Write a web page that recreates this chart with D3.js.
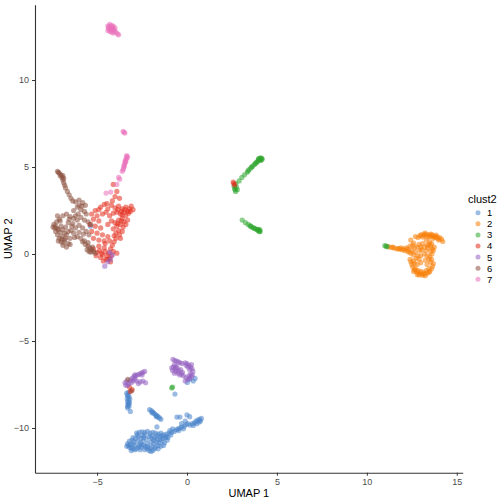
<!DOCTYPE html>
<html lang="en">
<head>
    <meta charset="UTF-8">
    <title>UMAP clust2</title>
    <script src="https://d3js.org/d3.v7.min.js"></script>
    <style>
        body { margin: 0; background: #fff; font-family: "Liberation Sans", Arial, sans-serif; }
        .tick text { fill: #4d4d4d; font-size: 9px; }
        .axis path, .axis line { stroke: #333; }
        .axis-title { font-size: 11px; fill: #000; }
        .legend-title { font-size: 11px; fill: #000; }
        .legend-label { font-size: 9.5px; fill: #000; }
    </style>
</head>
<body>
<svg id="chart" width="504" height="504"></svg>
<script>
// cluster labels and colours
const categories = ["1", "2", "3", "4", "5", "6", "7"];
const colors = ["#4883ca", "#f77d05", "#2da52d", "#e42c1c", "#945fc0", "#8b513e", "#ea6fba"];
const xTicks = [-5, 0, 5, 10, 15];
const yTicks = [-10, -5, 0, 5, 10];

// [UMAP 1, UMAP 2] per cell
const clust1 = [
    [-3.25,-7.95],[-3.3,-8.1],[-3.22,-8.2],[-3.32,-8.3],[-3.25,-8.4],[-3.3,-8.5],[-3.2,-8.55],[-3.28,-8.65],
    [-3.22,-8.75],[-3.3,-8.85],[-3.15,-9.05],[-3.35,-8.0],[-3.18,-8.35],[-3.28,-8.15],[-3.24,-8.6],[-3.3,-8.75],
    [0.15,-7.2],[0.35,-7.3],[0.02,-7.38],[0.45,-7.15],[-0.67,-8.05],[-5.37,1.6],
    [-2.08,-8.95],[-1.98,-9.0],[-1.9,-9.08],[-1.85,-9.15],[-1.78,-9.2],[-1.72,-9.28],[-1.65,-9.3],[-1.6,-9.38],
    [-1.52,-9.42],[-1.45,-9.5],[-1.95,-9.12],[-1.7,-9.35],
    [-1.67,-9.94],[-0.56,-9.37],[-0.39,-9.37],[0.0,-9.25],[0.15,-9.35],[0.17,-9.83],
    [0.3,-9.75],[0.42,-9.7],[0.5,-9.6],[0.6,-9.55],[0.7,-9.5],[0.8,-9.45],[0.55,-9.75],[0.68,-9.65],[0.35,-9.85],[0.75,-9.6],
    [-1.0,-10.3],[-0.85,-10.25],[-0.7,-10.2],[-0.6,-10.1],[-0.5,-10.05],[-0.4,-10.0],[-0.3,-9.95],[-0.15,-9.9],
    [-0.05,-9.8],[0.05,-9.75],[-0.45,-10.15],[-0.2,-10.05],[-0.9,-10.4],[-0.3,-9.75],[-0.1,-9.6],
    [-2.8,-10.3],[-2.65,-10.25],[-2.5,-10.22],[-2.35,-10.25],[-2.2,-10.2],[-2.05,-10.3],[-1.9,-10.25],[-1.75,-10.3],
    [-1.6,-10.35],[-1.45,-10.3],[-1.3,-10.4],[-1.15,-10.35],
    [-3.0,-10.55],[-2.85,-10.6],[-2.7,-10.5],[-2.55,-10.6],[-2.4,-10.55],[-2.25,-10.65],[-2.1,-10.5],[-1.95,-10.6],
    [-1.8,-10.55],[-1.65,-10.65],[-1.5,-10.5],[-1.35,-10.6],[-1.2,-10.55],[-1.1,-10.7],
    [-2.95,-10.8],[-2.6,-10.85],[-2.45,-10.75],[-2.2,-10.9],[-2.0,-10.8],[-1.85,-10.9],[-1.7,-10.8],[-1.55,-10.85],
    [-1.4,-10.75],[-1.25,-10.85],
    [-3.3,-10.9],[-3.25,-11.0],[-3.2,-11.1],[-3.1,-11.15],[-3.0,-11.2],[-2.9,-11.25],[-2.8,-11.2],[-2.7,-11.1],
    [-3.15,-10.95],[-3.35,-11.05],
    [-2.3,-11.1],[-2.2,-11.2],[-2.1,-11.3],[-2.0,-11.35],[-1.9,-11.3],[-1.8,-11.2],[-1.75,-11.1],[-2.05,-11.15],
    [-2.4,-11.0],[-2.55,-11.1],[-2.6,-11.25],[-1.6,-11.0],[-1.45,-11.05],[-1.3,-11.0],
    [-3.05,-10.7],[-2.75,-10.75],[-2.5,-10.95],[-2.35,-10.4],[-2.0,-10.45],[-1.7,-10.45],[-1.4,-10.45],[-1.15,-10.5],
    [-3.2,-10.75],[-2.9,-11.0],[-2.65,-11.0],[-2.35,-11.25],[-1.95,-11.05],[-1.6,-11.2],[-1.05,-10.55],[-0.8,-10.05],
    [-0.95,-10.15],[-3.1,-11.3],[-2.45,-10.45],[-1.85,-10.7],[-1.5,-10.65],[-2.75,-10.4],[-3.0,-10.95],[-2.2,-11.05]
];
const clust2 = [
    [11.2,0.42],[11.35,0.38],[11.5,0.35],[11.65,0.3],[11.8,0.28],[11.95,0.25],[12.1,0.2],[12.25,0.18],[11.45,0.4],[11.75,0.32],
    [12.3,0.3],[12.4,0.45],[12.5,0.2],[12.55,0.5],[12.65,0.35],[12.7,0.1],[12.8,0.4],[12.85,-0.1],[12.6,-0.05],
    [12.45,0.05],[12.95,0.2],[12.75,-0.25],[12.9,-0.3],
    [12.44,0.8],[12.6,0.63],[12.7,1.0],
    [12.85,0.95],[13.0,1.1],[13.15,1.15],[13.3,1.12],[13.45,1.1],[13.6,1.05],[13.75,1.0],[13.9,1.0],[14.05,0.95],
    [14.15,0.85],[14.22,0.72],[13.1,0.98],[13.4,0.98],[13.7,0.9],[13.95,0.88],[13.25,1.2],[13.55,1.15],[13.85,1.08],
    [13.5,0.7],[13.6,0.6],[13.55,0.45],[13.65,0.3],[13.55,0.15],[13.62,0.0],[13.5,-0.15],[13.6,-0.3],[13.55,-0.45],
    [13.45,0.55],[13.7,0.2],
    [13.1,0.6],[13.2,0.4],[13.05,0.25],[13.2,0.0],[13.0,-0.1],
    [12.4,-0.3],[12.45,-0.45],[12.5,-0.6],[12.55,-0.75],[12.65,-0.9],[12.75,-1.0],[12.9,-1.1],[13.05,-1.15],
    [13.2,-1.15],[13.35,-1.1],[13.5,-1.0],[13.6,-0.85],[13.65,-0.7],[12.85,-0.95],[13.0,-1.0],[13.15,-1.05],
    [13.3,-0.95],[12.6,-1.0],[12.8,-1.18],[13.1,-1.22],[13.45,-0.85],
    [12.9,0.55],[13.0,0.4],[13.3,0.8],[13.35,0.5],[13.3,0.2],[13.35,-0.1],[13.25,-0.35],[13.0,-0.5],[12.8,-0.6],
    [12.65,-0.55],[13.35,-0.6],[13.45,-0.3],[14.0,0.8],[13.8,0.95],[13.65,1.1],[13.2,1.05],[12.95,1.05],[13.5,1.0],
    [12.9,-1.2],[13.25,-1.25],[13.45,-1.05],[12.7,-0.85],[12.6,-0.4],[12.35,0.1],[12.05,0.3],[11.9,0.35],[12.2,0.35],
    [13.7,-0.55],[13.75,0.4],[13.4,0.35]
];
const clust3 = [
    [2.65,3.75],[2.7,3.6],[2.62,3.9],[2.75,3.85],[2.8,3.7],[2.72,4.05],[2.9,4.2],[3.05,4.4],[3.2,4.55],[3.35,4.7],
    [3.45,4.85],[3.55,4.95],[3.65,5.05],[3.75,5.15],[3.85,5.25],[3.95,5.35],[4.05,5.45],[4.15,5.5],[4.1,5.38],
    [3.98,5.45],[4.18,5.45],[3.9,5.3],[3.8,5.2],[3.6,5.0],[3.4,4.78],[4.0,5.5],[4.12,5.42],[4.1,5.52],[2.68,3.7],
    [3.07,1.95],[3.25,1.8],[3.4,1.7],[3.5,1.62],[3.6,1.55],[3.7,1.5],[3.8,1.45],[3.9,1.4],[4.0,1.35],[4.07,1.3],
    [3.95,1.42],[3.55,1.6],[3.75,1.48],[4.05,1.4],[3.95,1.35],[4.03,1.28],
    [11.0,0.48],[11.08,0.45],[11.12,0.42],
    [-0.85,-7.7],[-0.8,-7.65]
];
const clust4 = [
    [2.57,4.14],[2.65,3.97],[2.6,4.05],
    [-3.2,-7.65],[-3.05,-7.8],[-3.15,-7.9],
    [-4.1,4.0],[-3.9,3.6],[-4.0,3.3],[-3.75,3.2],[-4.15,3.05],
    [-4.8,2.7],[-4.6,2.85],[-4.4,2.6],[-4.2,2.8],[-4.0,2.65],[-3.8,2.75],[-3.6,2.6],[-3.4,2.7],[-3.2,2.6],[-3.0,2.55],
    [-3.1,2.75],[-3.3,2.45],[-3.5,2.4],[-3.7,2.3],[-3.9,2.4],[-4.1,2.35],[-4.3,2.2],[-4.5,2.4],[-4.7,2.3],
    [-3.4,2.2],[-3.6,2.05],[-3.8,1.95],[-3.5,1.85],[-3.3,1.95],[-3.7,1.7],[-3.9,1.6],[-3.55,1.55],[-3.8,1.35],
    [-4.0,1.8],[-4.2,1.9],[-4.4,1.7],[-4.1,1.45],[-3.95,1.2],[-3.75,1.1],
    [-3.95,0.9],[-4.05,0.7],[-4.15,0.5],[-4.25,0.3],[-4.1,0.15],[-3.9,0.05],
    [-5.1,2.5],[-5.3,2.3],[-5.0,2.2],[-5.2,2.0],[-4.9,1.9],[-5.4,1.7],[-5.1,1.6],[-4.8,1.5],[-5.3,1.3],[-5.0,1.2],
    [-4.7,1.1],[-5.2,0.9],[-4.9,0.8],[-4.6,0.75],[-4.4,1.0],
    [-5.2,0.3],[-5.0,0.1],[-4.85,0.2],[-4.7,-0.05],[-4.55,0.15],[-4.45,-0.1],[-4.3,-0.25],[-4.5,-0.3],[-4.65,-0.4],
    [-4.8,-0.2],[-4.35,0.05],[-4.2,-0.1],[-5.05,-0.1],[-4.6,0.35],
    [-3.25,2.35],[-3.45,2.55],[-3.65,2.45],[-3.85,2.55],[-3.15,2.45],[-3.6,2.25],[-3.4,1.7],[-3.65,1.9],[-3.85,1.75],
    [-4.45,2.9],[-4.9,2.55],[-4.3,0.75],[-4.05,1.05],[-4.55,0.6],[-4.9,0.45],[-4.75,0.05],[-4.4,-0.3],[-4.25,-0.45],
    [-3.7,0.9],[-3.6,1.3]
];
const clust5 = [
    [-3.45,-7.4],[-3.35,-7.3],[-3.25,-7.45],[-3.15,-7.25],[-3.05,-7.15],[-2.95,-7.05],[-2.85,-7.0],[-2.75,-6.95],
    [-2.65,-6.9],[-2.55,-6.85],[-2.45,-6.8],[-2.35,-6.75],[-3.3,-7.55],[-3.0,-7.3],[-2.9,-7.2],
    [-2.8,-7.3],[-2.6,-7.35],[-2.45,-7.3],[-2.3,-7.4],[-2.7,-7.45],
    [-3.4,-7.55],[-3.1,-7.4],[-2.5,-6.95],[-2.9,-6.95],
    [-4.3,0.1],[-4.15,-0.05],[-4.25,-0.3],[-4.4,-0.45],[-4.57,-0.7],
    [-0.78,-6.05],[-0.68,-6.12],[-0.58,-6.15],[-0.48,-6.2],[-0.38,-6.25],[-0.28,-6.3],
    [-0.1,-6.25],[0.0,-6.3],[0.1,-6.4],[0.2,-6.5],[0.28,-6.6],[0.33,-6.75],[0.05,-6.5],[0.15,-6.65],[-0.05,-6.4],
    [-0.85,-6.55],[-0.75,-6.5],[-0.65,-6.6],[-0.55,-6.55],[-0.45,-6.7],[-0.35,-6.65],[-0.25,-6.8],[-0.8,-6.7],
    [-0.6,-6.75],[-0.5,-6.85],
    [-0.4,-6.95],[-0.2,-7.0],[-0.05,-7.1],[0.1,-7.0],[0.25,-7.05],[0.05,-7.2],[-0.1,-7.3],[0.2,-6.9],
    [-0.7,-6.35],[-0.6,-6.45],[0.25,-6.35],[0.3,-6.95],[-0.3,-6.9],[-0.7,-6.85],[0.15,-7.15]
];
const clust6 = [
    [-3.29,-7.2],[-3.08,-7.86],
    [-7.2,4.75],[-7.1,4.65],[-7.0,4.55],[-6.95,4.4],[-6.9,4.25],[-6.85,4.1],[-6.8,3.95],[-6.75,3.8],[-6.65,3.6],
    [-6.55,3.4],[-6.45,3.2],[-6.35,3.05],[-7.15,4.7],[-6.9,4.5],[-7.05,4.5],[-6.85,4.35],
    [-6.2,3.0],[-6.0,3.1],[-5.8,2.95],[-5.65,2.8],[-6.1,2.7],[-5.9,2.55],[-5.7,2.45],[-6.3,2.5],[-5.6,2.3],[-6.05,2.3],
    [-6.0,2.8],[-5.85,2.75],
    [-6.9,2.2],[-6.7,2.3],[-6.5,2.15],[-6.3,2.05],[-6.1,1.95],[-5.9,2.1],[-5.7,1.95],[-5.5,1.85],[-5.35,1.7],
    [-6.6,1.8],[-6.4,1.6],[-6.2,1.5],[-6.0,1.65],[-5.8,1.5],[-5.6,1.3],[-5.45,1.1],[-6.3,1.2],[-6.1,1.0],[-5.9,0.9],
    [-5.7,0.75],[-6.5,0.9],[-6.7,1.1],
    [-7.4,1.7],[-7.35,1.5],[-7.3,1.3],[-7.2,1.1],[-7.1,0.9],[-7.0,0.7],[-6.9,0.5],[-7.25,1.85],[-7.1,2.0],[-7.0,1.6],
    [-6.9,1.4],[-6.8,1.2],[-6.75,0.9],[-6.85,0.65],[-7.45,1.55],[-7.15,1.4],[-6.95,1.0],[-6.6,0.6],[-7.2,2.2],[-6.7,0.4],
    [-7.3,1.6],[-7.2,1.45],[-7.05,1.25],[-6.95,0.85],[-6.8,0.8],[-6.6,1.3],[-6.45,1.35],[-6.35,1.75],[-6.2,2.2],
    [-6.55,2.0],[-6.75,1.55],[-7.05,1.9],[-6.25,0.95],[-6.0,1.25],[-5.75,1.15],[-6.5,0.55],[-7.15,0.75],
    [-5.8,0.7],[-5.65,0.55],[-5.5,0.45],[-5.4,0.35],[-5.3,0.25],[-5.2,0.15],[-5.1,0.05],[-5.55,0.25],[-5.35,0.1],
    [-5.5,0.65],[-5.25,0.4],[-5.45,0.15]
];
const clust7 = [
    [-4.4,13.1],[-4.3,13.2],[-4.2,13.15],[-4.1,13.1],[-4.35,12.95],[-4.25,13.0],[-4.15,12.95],[-4.05,12.9],
    [-4.3,12.8],[-4.2,12.75],[-4.1,12.7],[-3.95,12.75],[-3.85,12.65],[-4.4,12.85],[-4.0,13.0],[-3.8,12.6],
    [-4.35,13.05],[-4.25,12.9],[-4.15,13.05],[-4.05,12.8],
    [-3.5,7.0],[-3.45,6.95],[-3.55,7.05],
    [-3.35,5.65],[-3.3,5.55],[-3.38,5.45],[-3.4,5.3],[-3.45,5.2],[-3.48,5.05],[-3.52,4.95],[-3.55,4.85],[-3.6,4.75],
    [-3.42,5.4],[-3.5,5.1],[-3.35,5.6],[-3.45,5.3],
    [-3.74,4.3],[-3.9,4.0],[-4.24,3.56],[-4.5,3.5],[-3.8,4.4]
];

const clusters = [clust1, clust2, clust3, clust4, clust5, clust6, clust7];

const svg = d3.select("#chart");
const plotLeft = 35, plotRight = 462.7, plotTop = 4.7, plotBottom = 472.7;

const x = d3.scaleLinear().domain([-8.45, 15.33]).range([plotLeft, plotRight]);
const y = d3.scaleLinear().domain([-12.57, 14.33]).range([plotBottom, plotTop]);
const color = d3.scaleOrdinal().domain(categories).range(colors);

// points
const points = [];
clusters.forEach((pts, i) => pts.forEach(p => points.push({ x: p[0], y: p[1], c: categories[i] })));

svg.append("g")
    .selectAll("circle")
    .data(points)
    .enter().append("circle")
    .attr("cx", d => x(d.x))
    .attr("cy", d => y(d.y))
    .attr("r", 2.6)
    .attr("fill", d => color(d.c))
    .attr("fill-opacity", 0.55);

// axes
svg.append("g")
    .attr("class", "axis")
    .attr("transform", `translate(0,${plotBottom})`)
    .call(d3.axisBottom(x).tickValues(xTicks).tickSize(3).tickPadding(3).tickSizeOuter(0));

svg.append("g")
    .attr("class", "axis")
    .attr("transform", `translate(${plotLeft},0)`)
    .call(d3.axisLeft(y).tickValues(yTicks).tickSize(3).tickPadding(3).tickSizeOuter(0));

svg.selectAll(".axis .domain").attr("stroke-width", 1.1);

svg.append("text")
    .attr("class", "axis-title")
    .attr("x", (plotLeft + plotRight) / 2)
    .attr("y", 497)
    .attr("text-anchor", "middle")
    .text("UMAP 1");

svg.append("text")
    .attr("class", "axis-title")
    .attr("transform", `translate(12,${(plotTop + plotBottom) / 2}) rotate(-90)`)
    .attr("text-anchor", "middle")
    .text("UMAP 2");

// legend
const legend = svg.append("g").attr("transform", "translate(468,0)");

legend.append("text")
    .attr("class", "legend-title")
    .attr("x", 0)
    .attr("y", 203)
    .text("clust2");

categories.forEach((c, i) => {
    const yy = 212.7 + i * 11.1;
    legend.append("circle")
        .attr("cx", 10)
        .attr("cy", yy)
        .attr("r", 2.5)
        .attr("fill", color(c))
        .attr("fill-opacity", 0.55);
    legend.append("text")
        .attr("class", "legend-label")
        .attr("x", 19)
        .attr("y", yy + 3.4)
        .text(c);
});
</script>
</body>
</html>
